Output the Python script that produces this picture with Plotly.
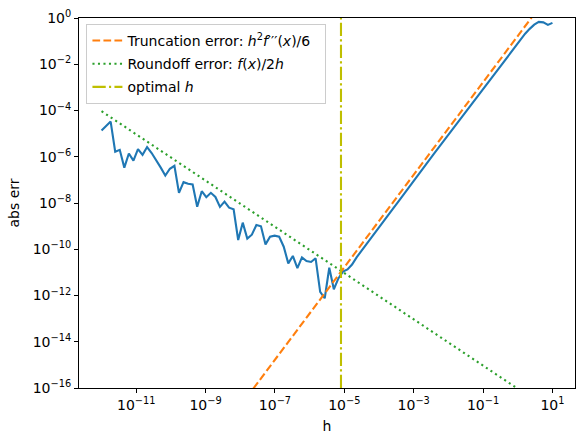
import numpy as np
import plotly.graph_objects as go

# step sizes (100 log-spaced values from 1e-12 to 1e1)
h = np.logspace(-12, 1, 100)

abs_err_log10 = [
    -4.87, -4.67, -4.48, -5.78, -5.70, -6.47, -5.86, -6.17, -5.67, -5.92,
    -5.58, -5.84, -6.13, -6.47, -6.81, -6.52, -6.39, -7.56, -7.10, -7.17,
    -7.20, -8.16, -7.49, -7.75, -7.56, -7.74, -8.17, -7.94, -8.20, -8.27,
    -9.60, -8.85, -9.54, -9.37, -8.95, -9.01, -9.79, -9.46, -9.41, -9.46,
    -9.89, -10.61, -10.29, -10.82, -10.35, -10.51, -10.55, -10.39, -11.84, -12.12,
    -10.80, -11.73, -11.26, -10.97, -10.87, -10.66, -10.35, -10.08, -9.81, -9.55,
    -9.29, -9.03, -8.76, -8.50, -8.24, -7.98, -7.71, -7.45, -7.19, -6.92,
    -6.66, -6.40, -6.14, -5.87, -5.61, -5.35, -5.09, -4.82, -4.56, -4.30,
    -4.04, -3.77, -3.51, -3.25, -2.99, -2.72, -2.46, -2.20, -1.94, -1.67,
    -1.42, -1.16, -0.92, -0.68, -0.47, -0.29, -0.17, -0.19, -0.30, -0.21,
]
abs_err = [10 ** v for v in abs_err_log10]

# theoretical error lines (end points)
trunc_h = [1e-12, 1e1]
trunc_err = [1.67e-25, 16.7]
round_h = [1e-12, 1e1]
round_err = [9.3e-5, 9.3e-18]
h_opt = 8.0e-6

x_tick_exp = [-11, -9, -7, -5, -3, -1, 1]
y_tick_exp = [0, -2, -4, -6, -8, -10, -12, -14, -16]


def sup(e):
    s = str(e).replace("-", "\u2212")
    return f"10<sup>{s}</sup>"


FONT = "DejaVu Sans"
fig = go.Figure()

fig.add_trace(go.Scatter(x=h, y=abs_err, mode="lines",
                         line=dict(color="#1f77b4", width=2.1),
                         showlegend=False))
fig.add_trace(go.Scatter(x=trunc_h, y=trunc_err, mode="lines", legendgroup="a",
                         name="Truncation error: <i>h</i><sup>2</sup><i>f</i>\u2032\u2032\u2032(<i>x</i>)/6&nbsp;&nbsp;",
                         line=dict(color="#ff7f0e", width=2.1, dash="7.7px,3.3px")))
fig.add_trace(go.Scatter(x=round_h, y=round_err, mode="lines", legendgroup="b",
                         name="Roundoff error: <i>f</i>(<i>x</i>)/2<i>h</i>",
                         line=dict(color="#2ca02c", width=2.1, dash="2.1px,3.4px")))
fig.add_trace(go.Scatter(x=[h_opt, h_opt], y=[1e-16, 1e0], mode="lines", legendgroup="c",
                         name="optimal <i>h</i>",
                         line=dict(color="#bfbf00", width=2.1,
                                   dash="13.3px,3.3px,2.1px,3.3px")))

axis_common = dict(type="log", showline=True, mirror=True, linecolor="black",
                   linewidth=1, ticks="outside", ticklen=4, tickwidth=1,
                   tickcolor="black", showgrid=False, zeroline=False,
                   tickfont=dict(family=FONT, size=14, color="black"))

fig.update_xaxes(range=[-12.65, 1.65],
                 tickvals=[10.0 ** e for e in x_tick_exp],
                 ticktext=[sup(e) for e in x_tick_exp],
                 title=dict(text="h", font=dict(family=FONT, size=14, color="black"),
                            standoff=9),
                 **axis_common)
fig.update_yaxes(range=[-16, 0],
                 tickvals=[10.0 ** e for e in y_tick_exp],
                 ticktext=[sup(e) for e in y_tick_exp],
                 title=dict(text="abs err", font=dict(family=FONT, size=14, color="black"),
                            standoff=9),
                 **axis_common)

fig.update_layout(
    width=584, height=445,
    margin=dict(l=79, r=9, t=18, b=57, autoexpand=False),
    plot_bgcolor="white", paper_bgcolor="white",
    font=dict(family=FONT, size=14, color="black"),
    legend=dict(x=0.015, y=0.984, xanchor="left", yanchor="top",
                tracegroupgap=2,
                bgcolor="rgba(255,255,255,0.8)", bordercolor="#cccccc",
                borderwidth=1, font=dict(family=FONT, size=14, color="black")),
)

fig.write_html("out.html")
